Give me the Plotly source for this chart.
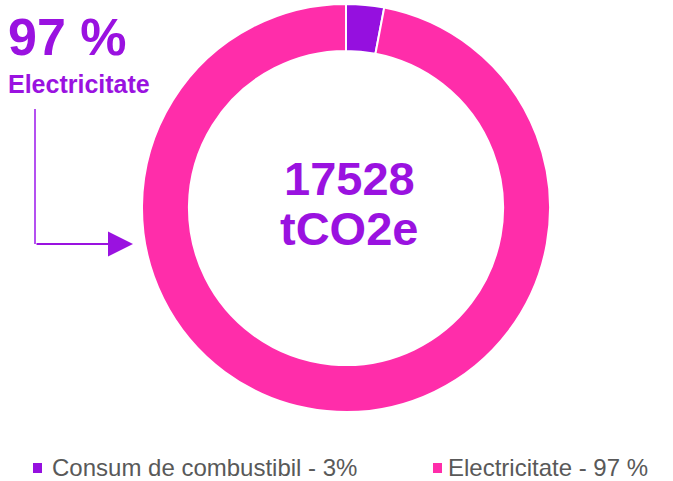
import plotly.graph_objects as go

labels = ["Consum de combustibil - 3%", "Electricitate - 97 %"]
values = [3, 97]
colors = ["#9510DF", "#FF2DAA"]
center_lines = ["17528", "tCO2e"]
callout_value = "97 %"
callout_label = "Electricitate"

W, H = 673, 481
PURPLE = "#9A12E0"
FONT = "Liberation Sans, Arial"

def px(x):
    return x / W

def py(y):
    return 1 - y / H

fig = go.Figure()
fig.add_trace(go.Pie(
    labels=labels,
    values=values,
    marker=dict(colors=colors, line=dict(color="white", width=2)),
    hole=0.77,
    sort=False,
    direction="clockwise",
    rotation=0,
    textinfo="none",
    hoverinfo="label+value",
    showlegend=False,
    domain=dict(x=[px(142), px(550)], y=[py(412), py(4)]),
))

def txt(x, y, s, size, color, xanchor="center"):
    fig.add_annotation(x=px(x), y=py(y), xref="paper", yref="paper", xanchor=xanchor, yanchor="middle",
                       text=s, showarrow=False, font=dict(family=FONT, size=size, color=color))

txt(349, 178, f"<b>{center_lines[0]}</b>", 47, PURPLE)
txt(349, 228, f"<b>{center_lines[1]}</b>", 47, PURPLE)
txt(6, 37, f"<b>{callout_value}</b>", 52, PURPLE, "left")
txt(6, 84, f"<b>{callout_label}</b>", 25, PURPLE, "left")

fig.add_shape(type="line", xref="paper", yref="paper", x0=px(35), x1=px(35), y0=py(109), y1=py(244),
              line=dict(color="#B450F0", width=2))
fig.add_annotation(x=px(133), y=py(244), xref="paper", yref="paper", ax=-98, ay=0, text="",
                   showarrow=True, arrowhead=2, arrowsize=2.5, arrowwidth=2, arrowcolor=PURPLE)

# manual legend (one row, as in the reference)
legend_x = [33, 433]
text_x = [50, 446]
for lx, tx, lab, col in zip(legend_x, text_x, labels, colors):
    fig.add_shape(type="rect", xref="paper", yref="paper", x0=px(lx), x1=px(lx + 9),
                  y0=py(473), y1=py(463), fillcolor=col, line=dict(width=0))
    txt(tx, 467, lab, 24, "#595959", "left")

fig.update_layout(
    width=W, height=H,
    margin=dict(l=0, r=0, t=0, b=0, autoexpand=False),
    paper_bgcolor="white",
    plot_bgcolor="white",
    showlegend=False,
)

fig.write_html("out.html", config={"displayModeBar": False},
               post_script="document.body.style.margin='0';document.body.style.overflow='hidden';")
